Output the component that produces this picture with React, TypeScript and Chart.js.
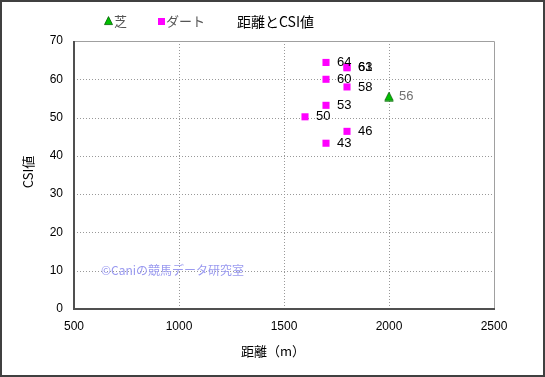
import React, { useEffect, useRef } from "react";
import { Chart, registerables } from "chart.js";

Chart.register(...registerables);

const turfDistances = [2000];
const turfCSI = [55.5];
const turfLabels = ["56"];

const dirtDistances = [1700, 1800, 1800, 1700, 1800, 1700, 1600, 1800, 1700];
const dirtCSI = [64.4, 63.2, 63.0, 60.0, 58.0, 53.2, 50.2, 46.4, 43.3];
const dirtLabels = ["64", "63", "61", "60", "58", "53", "50", "46", "43"];

const xTicks = [500, 1000, 1500, 2000, 2500];
const yTicks = [0, 10, 20, 30, 40, 50, 60, 70];

const TITLE = "距離とCSI値";
const X_TITLE = "距離（m）";
const Y_TITLE = "CSI値";
const SERIES_NAMES = ["芝", "ダート"];
const WATERMARK = "©Caniの競馬データ研究室";

const NUM_FONT = "'Liberation Sans', Arial, sans-serif";
const JP_FONT = "'Noto Sans CJK JP', 'Liberation Sans', sans-serif";

function drawTriangle(ctx: CanvasRenderingContext2D, x: number, y: number, s: number) {
  ctx.beginPath();
  ctx.moveTo(x, y - s * 0.55);
  ctx.lineTo(x + s * 0.5, y + s * 0.45);
  ctx.lineTo(x - s * 0.5, y + s * 0.45);
  ctx.closePath();
  ctx.fillStyle = "#00c000";
  ctx.fill();
  ctx.strokeStyle = "#006000";
  ctx.lineWidth = 0.8;
  ctx.stroke();
}

const gridPlugin = {
  id: "dotgrid",
  beforeDatasetsDraw(chart: any) {
    const ctx = chart.ctx as CanvasRenderingContext2D;
    const { left, right, top, bottom } = chart.chartArea;
    const xs = chart.scales.x;
    const ys = chart.scales.y;
    ctx.save();
    ctx.strokeStyle = "#999";
    ctx.lineWidth = 1;
    ctx.setLineDash([1, 2]);
    xTicks.slice(1, -1).forEach((v) => {
      const px = Math.round(xs.getPixelForValue(v)) + 0.5;
      ctx.beginPath();
      ctx.moveTo(px, top);
      ctx.lineTo(px, bottom);
      ctx.stroke();
    });
    yTicks.slice(1, -1).forEach((v) => {
      const py = Math.round(ys.getPixelForValue(v)) + 0.5;
      ctx.beginPath();
      ctx.moveTo(left, py);
      ctx.lineTo(right, py);
      ctx.stroke();
    });
    ctx.restore();
  },
};

const decorPlugin = {
  id: "decor",
  afterDraw(chart: any) {
    const ctx = chart.ctx as CanvasRenderingContext2D;
    const { left, right, top, bottom } = chart.chartArea;
    ctx.save();
    // plot border
    ctx.lineWidth = 1;
    ctx.strokeStyle = "#a0a0a0";
    ctx.beginPath();
    ctx.moveTo(left, top + 0.5);
    ctx.lineTo(right + 0.5, top + 0.5);
    ctx.lineTo(right + 0.5, bottom);
    ctx.stroke();
    ctx.lineWidth = 2;
    ctx.strokeStyle = "#505050";
    ctx.beginPath();
    ctx.moveTo(left, top);
    ctx.lineTo(left, bottom);
    ctx.lineTo(right + 1, bottom);
    ctx.stroke();

    // data labels
    const xs = chart.scales.x;
    const ys = chart.scales.y;
    ctx.textBaseline = "middle";
    ctx.textAlign = "left";
    ctx.font = `13px ${NUM_FONT}`;
    ctx.fillStyle = "#000";
    dirtDistances.forEach((d, i) => {
      ctx.fillText(dirtLabels[i], xs.getPixelForValue(d) + 11, ys.getPixelForValue(dirtCSI[i]));
    });
    ctx.fillStyle = "#707070";
    turfDistances.forEach((d, i) => {
      ctx.fillText(turfLabels[i], xs.getPixelForValue(d) + 10, ys.getPixelForValue(turfCSI[i]));
    });

    // watermark
    ctx.font = `12px ${JP_FONT}`;
    ctx.fillStyle = "#9a9af0";
    ctx.fillText(WATERMARK, 101, 270);

    // title
    ctx.font = `14px ${JP_FONT}`;
    ctx.fillStyle = "#000";
    ctx.fillText(TITLE, 237, 22);

    // legend
    drawTriangle(ctx, 108.5, 21, 8);
    ctx.font = `13px ${JP_FONT}`;
    ctx.fillStyle = "#555";
    ctx.fillText(SERIES_NAMES[0], 114, 21);
    ctx.fillStyle = "#ff00ff";
    ctx.fillRect(158, 18, 7, 7);
    ctx.fillStyle = "#555";
    ctx.fillText(SERIES_NAMES[1], 166, 21);

    // axis titles
    ctx.fillStyle = "#000";
    ctx.textAlign = "center";
    ctx.font = `13px ${JP_FONT}`;
    ctx.fillText(X_TITLE, 273, 351);
    ctx.save();
    ctx.translate(28, 172);
    ctx.rotate(-Math.PI / 2);
    ctx.fillText(Y_TITLE, 0, 0);
    ctx.restore();

    // outer border
    ctx.lineWidth = 2;
    ctx.strokeStyle = "#404040";
    ctx.strokeRect(1, 1, chart.width - 2, chart.height - 2);
    ctx.restore();
  },
};

const triPoint = (() => {
  if (typeof document === "undefined") return "triangle";
  const c = document.createElement("canvas");
  c.width = 10;
  c.height = 10;
  const g = c.getContext("2d")!;
  drawTriangle(g, 5, 5.3, 8.5);
  return c;
})();

export default function App() {
  const ref = useRef<HTMLCanvasElement>(null);
  useEffect(() => {
    document.body.style.margin = "0";
    const chart = new Chart(ref.current!, {
      type: "scatter",
      data: {
        datasets: [
          {
            label: SERIES_NAMES[0],
            data: turfDistances.map((x, i) => ({ x, y: turfCSI[i] })),
            pointStyle: triPoint as any,
            pointRadius: 5,
            backgroundColor: "#00c000",
            borderColor: "#006000",
          },
          {
            label: SERIES_NAMES[1],
            data: dirtDistances.map((x, i) => ({ x, y: dirtCSI[i] })),
            pointStyle: "rect",
            pointRadius: 5,
            borderWidth: 0,
            backgroundColor: "#ff00ff",
            borderColor: "#ff00ff",
          },
        ],
      },
      options: {
        animation: false,
        responsive: false,
        devicePixelRatio: 1,
        layout: { padding: { left: 0, right: 51, top: 41, bottom: 0 } },
        plugins: { legend: { display: false }, title: { display: false }, tooltip: { enabled: false } },
        scales: {
          x: {
            type: "linear",
            min: 500,
            max: 2500,
            afterBuildTicks: (s: any) => {
              s.ticks = xTicks.map((v) => ({ value: v }));
            },
            afterFit: (s: any) => {
              s.height = 68;
            },
            grid: { display: false, drawTicks: false },
            border: { display: false },
            ticks: {
              color: "#000",
              padding: 10,
              font: { family: NUM_FONT, size: 12 },
              maxRotation: 0,
              callback: (v: any) => String(v),
            },
          },
          y: {
            type: "linear",
            min: 0,
            max: 70,
            afterBuildTicks: (s: any) => {
              s.ticks = yTicks.map((v) => ({ value: v }));
            },
            afterFit: (s: any) => {
              s.width = 74;
            },
            grid: { display: false, drawTicks: false },
            border: { display: false },
            ticks: { color: "#000", padding: 11, font: { family: NUM_FONT, size: 12 }, callback: (v: any) => String(v) },
          },
        },
      },
      plugins: [gridPlugin, decorPlugin],
    });
    return () => chart.destroy();
  }, []);
  return (
    <div style={{ width: 545, height: 377, background: "#fff" }}>
      <canvas ref={ref} width={545} height={377} style={{ display: "block" }} />
    </div>
  );
}
